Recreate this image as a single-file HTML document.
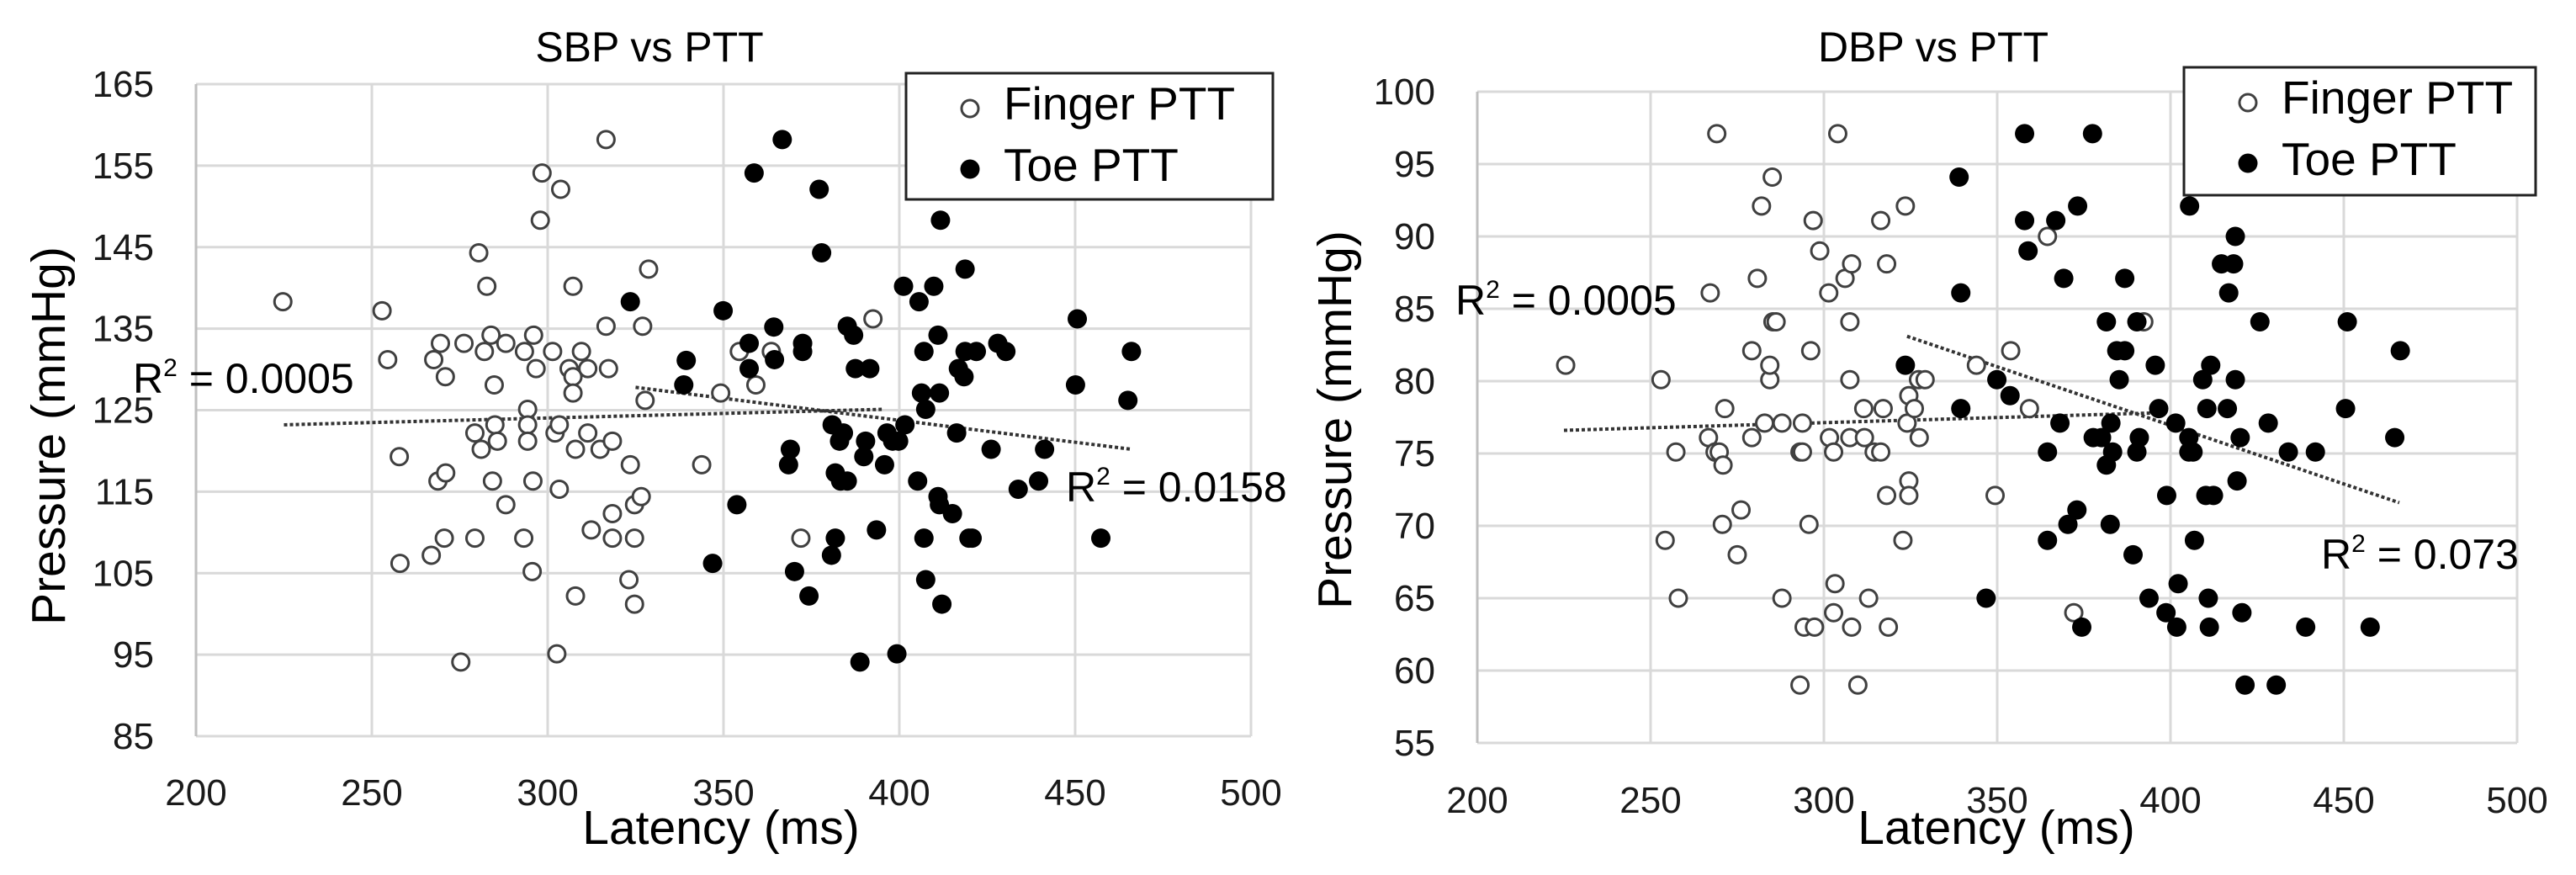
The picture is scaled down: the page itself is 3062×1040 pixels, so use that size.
<!DOCTYPE html>
<html><head><meta charset="utf-8">
<style>
html,body{margin:0;padding:0;background:#fff;}
svg{display:block;font-family:"Liberation Sans",sans-serif;}
</style></head>
<body>
<svg id="chart" width="3062" height="1040" viewBox="0 0 3062 1040" xmlns="http://www.w3.org/2000/svg"></svg>
<script>
const xTicks = [200,250,300,350,400,450,500];
const sbpTicks = [85,95,105,115,125,135,145,155,165];
const dbpTicks = [55,60,65,70,75,80,85,90,95,100];

const sbpFingerX = [224.7,252.9,254.5,257.8,258,266.9,267.6,269.5,270.9,268.8,271,270.6,276.2,275.3,279.3,279.3,280.4,281.1,282,282.7,283.9,284.8,285,285.7,284.3,288.1,288.1,293.2,293.4,294.3,294.3,294.3,295.8,295.6,296,296.7,297.9,298.4,301.4,302.1,303.3,303.3,303.7,302.6,306.1,307.2,307.2,307.2,307.9,307.9,309.6,311.4,311.4,312.4,314.9,316.6,316.6,317.3,318.4,318.4,318.4,323.1,323.5,324.7,324.7,324.7,326.6,327,327.7,328.7,343.8,349.2,354.5,363.6,359.2,372,392.5];
const sbpFingerY = [138.3,137.2,131.2,119.3,106.2,107.2,131.2,133.2,129.1,116.3,117.3,109.3,133.2,94.1,109.3,122.2,144.3,120.2,132.2,140.2,134.2,128.1,123.2,121.2,116.3,113.4,133.2,109.3,132.2,125.1,123.2,121.2,116.3,105.2,134.2,130.1,148.3,154.1,132.2,122.2,123.2,115.3,152.1,95.1,130.1,129.1,127.1,140.2,120.2,102.2,132.2,130.1,122.2,110.3,120.2,135.3,158.2,130.1,121.2,112.3,109.3,104.2,118.3,113.4,109.3,101.2,114.4,135.3,126.2,142.3,118.3,127.1,132.2,132.2,128.1,109.3,136.2];
const sbpToeX = [323.5,339.4,338.7,349.9,353.8,346.9,358.7,357.3,357.3,364.5,364.3,366.7,369,368.5,370.2,372.5,372.5,374.3,377.2,377.9,380.7,381.8,380.9,381.8,383,384.1,383.3,385.2,385.2,387,387.5,388.8,389.9,390.4,391.6,393.5,395.8,396.5,398.1,399.8,399.3,401.6,401.2,405.2,405.6,406.3,407,407.5,407,407.5,409.8,411,411,411.4,411.7,411.4,412.1,415.1,416.3,416.8,418.4,418.7,418.7,419.8,420.7,421.9,426.1,428,430.3,433.8,439.6,441.3,450.1,450.6,457.3,465,466];
const sbpToeY = [138.3,131.1,128.1,137.2,113.4,106.2,154.1,133.2,130.1,131.2,135.2,158.2,120.2,118.3,105.2,133.2,132.2,102.2,152.1,144.3,107.2,109.3,123.2,117.3,121.2,122.2,116.3,116.3,135.3,134.2,130.1,94.1,119.3,121.2,130.1,110.3,118.3,122.2,121.2,121.2,95.1,123.2,140.2,116.3,138.3,127.1,132.2,125.1,109.3,104.2,140.2,134.2,114.4,113.4,148.3,127.1,101.2,112.3,122.2,130.1,129.1,132.2,142.3,109.3,109.3,132.2,120.2,133.2,132.2,115.3,116.3,120.2,128.1,136.2,109.3,126.2,132.2];

const dbpFingerX = [225.5,253,254.2,257.3,258,266.7,267.2,269.1,268.6,269.8,270.9,271.4,270.7,275,276.1,279.2,279.2,280.8,282,282.9,284.4,284.4,285.1,285.3,286.2,287.9,287.9,293.1,293.8,293.1,293.8,294.3,297.3,295.7,296.2,296.9,298.8,301.6,301.4,302.8,302.8,303.2,304,306.1,307.5,307.5,307.5,308,308,309.8,311.5,311.7,312.9,314.5,316.4,316.4,317.1,318.1,318.1,318.6,322.8,323.5,324,324.5,324.5,324.5,326.1,327.3,329.2,327.5,344,349.4,353.9,359.3,364.5,372.1,392.3];
const dbpFingerY = [81.1,80.1,69,75.1,65,76.1,86.1,97.1,75.1,75.1,74.2,78.1,70.1,68,71.1,82.1,76.1,87.1,92.1,77.1,80.1,81.1,94.1,84.1,84.1,77.1,65,75.1,75.1,59,77.1,63,63,70.1,82.1,91.1,89,76.1,86.1,75.1,64,66,97.1,87.1,76.1,84.1,80.1,88.1,63,59,78.1,76.1,65,75.1,75.1,91.1,78.1,88.1,72.1,63,69,92.1,77.1,79,73.1,72.1,78.1,80.1,80.1,76.1,81.1,72.1,82.1,78.1,90,64,84.1];
const dbpToeX = [323.5,339,339.5,339.5,346.8,349.9,353.7,357.9,357.9,358.9,364.5,364.5,366.9,368.1,369.2,370.4,373,373.2,374.4,377.5,377.7,380.1,381.5,381.5,382.6,382.8,383.3,384.5,385.2,386.8,386.8,389.2,390.3,390.3,391,393.8,395.6,396.6,398.7,398.9,401.5,401.8,402.2,405.3,405.3,406.5,405.5,406.9,409.3,410.5,410.2,412.4,410.9,411.2,411.6,414.7,416.4,416.8,418.2,418.7,418.7,419.2,420.1,420.6,421.5,425.8,428.2,430.5,434,439,441.8,450.5,451,457.6,464.7,466.3];
const dbpToeY = [81.1,94.1,86.1,78.1,65,80.1,79,97.1,91.1,89,75.1,69,91.1,77.1,87.1,70.1,71.1,92.1,63,97.1,76.1,76.1,84.1,74.2,70.1,77.1,75.1,82.1,80.1,87.1,82.1,68,84.1,75.1,76.1,65,81.1,78.1,64,72.1,77.1,63,66,76.1,75.1,75.1,92.1,69,80.1,78.1,72.1,72.1,65,63,81.1,88.1,78.1,86.1,88.1,90,80.1,73.1,76.1,64,59,84.1,77.1,59,75.1,63,75.1,78.1,84.1,63,76.1,82.1];

const sbpFingerTrend = [[225,123.2],[395,125.1]];
const sbpToeTrend = [[325,127.8],[466,120.2]];
const dbpFingerTrend = [[225,76.6],[395,77.8]];
const dbpToeTrend = [[324,83.1],[466,71.6]];

const NS = "http://www.w3.org/2000/svg";
const svg = document.getElementById('chart');
function mk(tag, attrs, parent){
  const e = document.createElementNS(NS, tag);
  for (const k in attrs) e.setAttribute(k, attrs[k]);
  (parent||svg).appendChild(e);
  return e;
}

function drawChart(cfg){
  const g = mk('g', {});
  
  
  const L=cfg.L,R=cfg.R,T=cfg.T,B=cfg.B;
  const xs = v => L + (v-200)/300*(R-L);
  const yMin = cfg.yTicks[0], yMax = cfg.yTicks[cfg.yTicks.length-1];
  const ys = v => B - (v-yMin)/(yMax-yMin)*(B-T);
  cfg.yTicks.forEach(t=>{
    const ln = mk('line',{x1:L,x2:R,y1:ys(t),y2:ys(t),stroke:'#d9d9d9','stroke-width':3},g);
    
    
    const tx = mk('text',{x:L-50,y:ys(t)+15,'font-size':44,'text-anchor':'end',fill:'#1a1a1a'},g);
    tx.textContent = t;
    
    
  });
  xTicks.forEach(t=>{
    const ln = mk('line',{x1:xs(t),x2:xs(t),y1:T,y2:B,stroke:'#d9d9d9','stroke-width':3},g);
    
    
    const tx = mk('text',{x:xs(t),y:cfg.xLabY,'font-size':44,'text-anchor':'middle',fill:'#1a1a1a'},g);
    tx.textContent = t;
    
    
  });
  const ax = mk('line',{x1:L,x2:L,y1:T,y2:B,stroke:'#bfbfbf','stroke-width':3},g);
  
  
  [cfg.fTrend, cfg.tTrend].forEach((tr,i)=>{
    const ln = mk('line',{x1:xs(tr[0][0]),y1:ys(tr[0][1]),x2:xs(tr[1][0]),y2:ys(tr[1][1]),stroke:'#333','stroke-width':4,'stroke-dasharray':'4 3'},g);
    
    
  });
  cfg.fx.forEach((v,i)=>{
    const c = mk('circle',{cx:xs(v),cy:ys(cfg.fy[i]),r:10,fill:'#fff',stroke:'#404040','stroke-width':3},g);
    
    
  });
  cfg.tx.forEach((v,i)=>{
    const c = mk('circle',{cx:xs(v),cy:ys(cfg.ty[i]),r:11.5,fill:'#000'},g);
    
    
  });
  const ti = mk('text',{x:cfg.titleX,y:73,'font-size':50,'text-anchor':'middle',fill:'#000'},g);
  ti.textContent = cfg.title;
  
  
  const xt = mk('text',{x:cfg.xTitleX,y:1003,'font-size':57,'text-anchor':'middle',fill:'#000'},g);
  xt.textContent = 'Latency (ms)';
  
  
  const yt = mk('text',{x:0,y:0,'font-size':57,'text-anchor':'middle',fill:'#000',transform:`translate(${cfg.yTitleX},${cfg.yTitleY}) rotate(-90)`},g);
  yt.textContent = 'Pressure (mmHg)';
  
  
  cfg.r2.forEach((r,i)=>{
    const t = mk('text',{x:r[0],y:r[1],'font-size':50,fill:'#000'},g);
    t.innerHTML = 'R<tspan font-size="30" dy="-20">2</tspan><tspan dy="20"> = '+r[2]+'</tspan>';
    
    
  });
  const lg = mk('g',{},g);
  
  
  const lb = cfg.leg;
  mk('rect',{x:lb[0],y:lb[1],width:lb[2]-lb[0],height:lb[3]-lb[1],fill:'#fff',stroke:'#222','stroke-width':3},lg);
  const e1 = mk('g',{},lg);
  
  
  mk('circle',{cx:lb[0]+76,cy:lb[1]+42,r:10,fill:'#fff',stroke:'#404040','stroke-width':3},e1);
  const t1 = mk('text',{x:lb[0]+116,y:lb[1]+55,'font-size':55,fill:'#000'},e1);
  t1.textContent = 'Finger PTT';
  const e2 = mk('g',{},lg);
  
  
  mk('circle',{cx:lb[0]+76,cy:lb[1]+114,r:11.5,fill:'#000'},e2);
  const t2 = mk('text',{x:lb[0]+116,y:lb[1]+128,'font-size':55,fill:'#000'},e2);
  t2.textContent = 'Toe PTT';
}

drawChart({name:'sbp-chart',L:233,R:1487,T:100,B:875,yTicks:sbpTicks,xLabY:957,
  fx:sbpFingerX,fy:sbpFingerY,tx:sbpToeX,ty:sbpToeY,fTrend:sbpFingerTrend,tTrend:sbpToeTrend,
  title:'SBP vs PTT',titleX:772,xTitleX:857,yTitleX:77,yTitleY:518,
  r2:[[158,467,'0.0005'],[1267,596,'0.0158']],leg:[1077,87,1513,237]});
drawChart({name:'dbp-chart',L:1756,R:2992,T:109,B:883,yTicks:dbpTicks,xLabY:966,
  fx:dbpFingerX,fy:dbpFingerY,tx:dbpToeX,ty:dbpToeY,fTrend:dbpFingerTrend,tTrend:dbpToeTrend,
  title:'DBP vs PTT',titleX:2298,xTitleX:2373,yTitleX:1606,yTitleY:499,
  r2:[[1730,374,'0.0005'],[2759,676,'0.073']],leg:[2596,80,3014,232]});
</script>
</body></html>
